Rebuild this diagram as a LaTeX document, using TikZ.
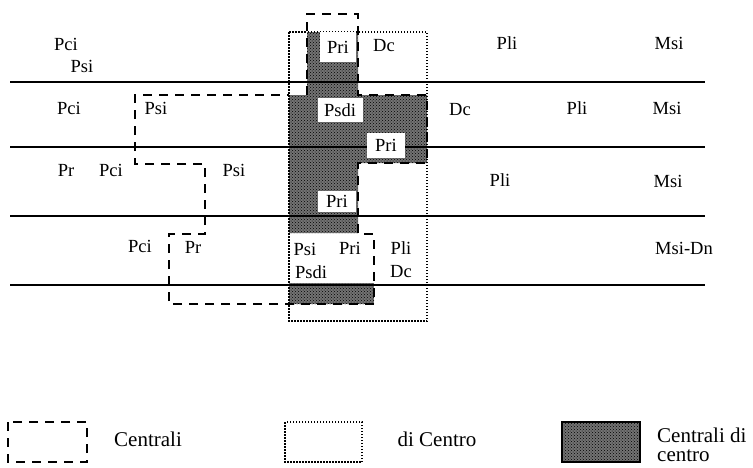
\documentclass[tikz,border=0pt]{standalone}
\usepackage{fontspec}
\setmainfont{Liberation Serif}
\usetikzlibrary{patterns}
\begin{document}
\begin{tikzpicture}[x=1pt,y=-1pt,
  lbl/.style={font=\fontsize{18.5}{21}\selectfont, inner sep=1pt},
  leg/.style={font=\fontsize{21}{24}\selectfont, inner sep=1pt},
  wlbl/.style={lbl, fill=white, inner sep=0pt},
  rowline/.style={line width=1.3pt},
  centr/.style={dash pattern=on 9pt off 7pt, line width=1.5pt},
  dicentro/.style={dash pattern=on 1.5pt off 1.5pt, line width=1.8pt},
  shadefill/.style={fill=black!55},
  shadepat/.style={pattern=crosshatch dots, pattern color=black}
]
\useasboundingbox (0,0) rectangle (753,467);

% shaded region (Centrali di centro)
\fill[shadefill] (307,32) -- (358,32) -- (358,95) -- (427,95) -- (427,163) -- (358,163)
  -- (358,233) -- (289,233) -- (289,95) -- (307,95) -- cycle;
\fill[shadepat] (307,32) -- (358,32) -- (358,95) -- (427,95) -- (427,163) -- (358,163)
  -- (358,233) -- (289,233) -- (289,95) -- (307,95) -- cycle;
\fill[shadefill] (289,283) rectangle (374,304);
\fill[shadepat] (289,283) rectangle (374,304);

% row lines
\foreach \yy/\nm in {82/l1,147/l2,216/l3,285/l4}{
  \coordinate (\nm a) at (10,\yy);
  \coordinate (\nm b) at (705,\yy);
  \draw[rowline] (\nm a) -- (\nm b);
}

% Centrali (dashed)
\draw[centr] (307,95) -- (307,14) -- (358,14) -- (358,95) -- (427,95) -- (427,163) -- (358,163)
  -- (358,234) -- (374,234) -- (374,304) -- (169,304) -- (169,234) -- (205,234)
  -- (205,164) -- (135,164) -- (135,95) -- (289,95);

% di Centro (dotted)
\draw[dicentro] (289,32) rectangle (427,321);

% white labels on shading
\node[wlbl, minimum width=36pt, minimum height=30pt] (pri1) at (338,47) {Pri};
\node[wlbl, minimum width=45pt, minimum height=24pt] (psdi2) at (340,110) {Psdi};
\node[wlbl, minimum width=38pt, minimum height=25pt] (pri2) at (386,145) {Pri};
\node[wlbl, minimum width=38pt, minimum height=21pt] (pri3) at (337,201) {Pri};

% row 1
\node[lbl] (pci1) at (66,44) {Pci};
\node[lbl] (psi1) at (82,66) {Psi};
\node[lbl] (dc1) at (384,46) {Dc};
\node[lbl] (pli1) at (507,43) {Pli};
\node[lbl] (msi1) at (669,43) {Msi};
% row 2
\node[lbl] (pci2) at (69,108) {Pci};
\node[lbl] (psi2) at (156,108) {Psi};
\node[lbl] (dc2) at (460,110) {Dc};
\node[lbl] (pli2) at (577,108) {Pli};
\node[lbl] (msi2) at (667,108) {Msi};
% row 3
\node[lbl] (pr3) at (66,170) {Pr};
\node[lbl] (pci3) at (111,170) {Pci};
\node[lbl] (psi3) at (234,170) {Psi};
\node[lbl] (pli3) at (500,180) {Pli};
\node[lbl] (msi3) at (668,181) {Msi};
% row 4
\node[lbl] (pci4) at (140,246) {Pci};
\node[lbl] (pr4) at (193,247) {Pr};
\node[lbl] (psi4) at (305,249) {Psi};
\node[lbl] (pri4) at (350,248) {Pri};
\node[lbl] (psdi4) at (311,272) {Psdi};
\node[lbl] (pli4) at (401,248) {Pli};
\node[lbl] (dc4) at (401,272) {Dc};
\node[lbl] (msi4) at (684,248) {Msi-Dn};

% legend
\draw[centr] (8,422) rectangle (87,462);
\node[leg] (legc) at (148,439) {Centrali};
\draw[dicentro] (285,422) rectangle (362,462);
\node[leg] (legd) at (437,439) {di Centro};
\fill[shadefill] (562,422) rectangle (640,462);
\fill[shadepat] (562,422) rectangle (640,462);
\draw[line width=1.5pt] (562,422) rectangle (640,462);
\node[leg, anchor=west, align=left, font=\fontsize{21}{19}\selectfont] (legs) at (656,445) {Centrali di\\centro};
\end{tikzpicture}
\end{document}
